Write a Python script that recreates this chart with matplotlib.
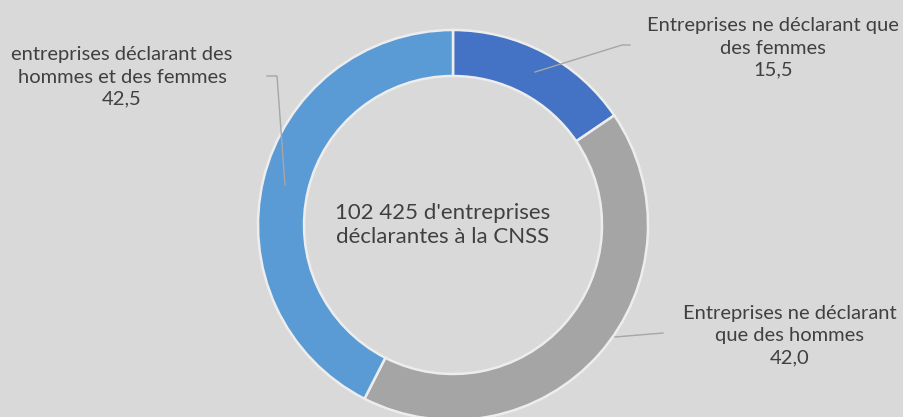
import matplotlib
matplotlib.use("Agg")
import matplotlib.pyplot as plt

# ---- data ----
categories = ["Entreprises ne déclarant que\ndes femmes",
              "Entreprises ne déclarant\nque des hommes",
              "entreprises déclarant des\nhommes et des femmes"]
values = [15.5, 42.0, 42.5]
value_labels = ["15,5", "42,0", "42,5"]
center_text = "102 425 d'entreprises\ndéclarantes à la CNSS"
colors = ["#4472C4", "#A5A5A5", "#5B9BD5"]

# ---- layout (pixel coordinates, y downward) ----
W, H = 904, 417
BG = "#D9D9D9"
TXT = "#404040"
cx, cy, R, ring = 453, 225, 195, 46
label_pos = [(773, 48), (790, 336), (122, 77)]
leaders = [[(630, 45), (622, 45), (535, 72)],
           [(663, 333), (615, 337)],
           [(267, 76), (277, 76), (285, 185)]]

plt.rcParams['font.family'] = ['Lato', 'DejaVu Sans']

fig = plt.figure(figsize=(W / 100, H / 100), dpi=100, facecolor=BG)
ax = fig.add_axes([0, 0, 1, 1])
ax.set_facecolor(BG)

def P(x, y):
    return x, H - y

ax.pie(values, colors=colors, startangle=90, counterclock=False,
       center=P(cx, cy), radius=R, frame=True,
       wedgeprops=dict(width=ring, edgecolor="#EDEDED", linewidth=1.8))

ax.set_xlim(0, W)
ax.set_ylim(0, H)
ax.set_aspect('equal')
ax.axis('off')

for cat, val, (lx, ly), pts in zip(categories, value_labels, label_pos, leaders):
    ax.text(*P(lx, ly), f"{cat}\n{val}", ha="center", va="center",
            fontsize=14.5, color=TXT, fontweight="normal", linespacing=1.36)
    xs = [p[0] for p in pts]
    ys = [H - p[1] for p in pts]
    ax.plot(xs, ys, color="#A6A6A6", lw=1.0)

ax.text(*P(443, 225), center_text, ha="center", va="center",
        fontsize=16, color=TXT, fontweight="normal", linespacing=1.25)

fig.savefig("out.png", dpi=100, facecolor=BG)
